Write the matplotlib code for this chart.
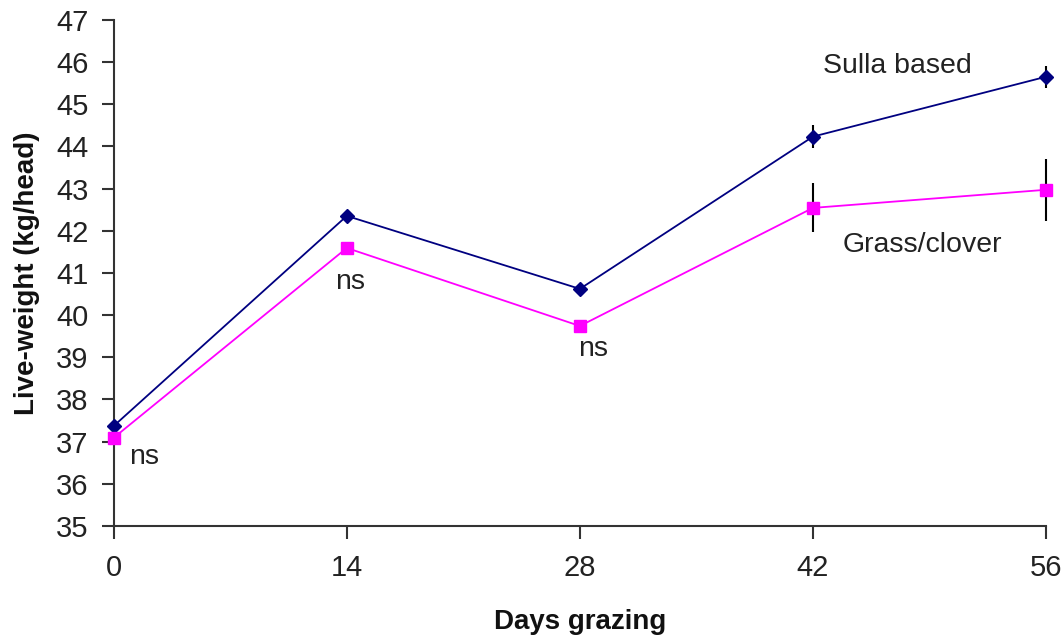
import matplotlib
matplotlib.use('Agg')
import matplotlib.pyplot as plt

days = [0, 14, 28, 42, 56]
sulla = [37.37, 42.35, 40.62, 44.23, 45.65]
sulla_err = [0, 0, 0, 0.28, 0.26]
grass = [37.09, 41.59, 39.74, 42.54, 42.97]
grass_err = [0, 0, 0, 0.58, 0.73]

plt.rcParams['font.family'] = ['Liberation Sans', 'DejaVu Sans']

fig = plt.figure(figsize=(10.63, 6.39), dpi=100)
ax = fig.add_axes([0.107, 0.177, 0.877, 0.792])

ax.errorbar(days, sulla, yerr=sulla_err, color='#000080', marker='D', markersize=7,
            linewidth=1.3, ecolor='black', elinewidth=1.5, capsize=0, clip_on=False, zorder=3)
ax.errorbar(days, grass, yerr=grass_err, color='#FF00FF', marker='s', markersize=8,
            linewidth=1.3, ecolor='black', elinewidth=1.5, capsize=0, clip_on=False, zorder=3)

ax.text(42.6, 45.9, 'Sulla based', fontsize=20.5, color='#222222', va='center', ha='left')
ax.text(43.8, 41.67, 'Grass/clover', fontsize=20.5, color='#222222', va='center', ha='left')
ns_pos = [(0.95, 36.64), (13.3, 40.79), (27.9, 39.2)]
for xp, yp in ns_pos:
    ax.text(xp, yp, 'ns', fontsize=20.5, color='#222222', va='center', ha='left')

ax.set_xlim(0, 56)
ax.set_ylim(35, 47)
ax.set_xticks(days)
ax.set_yticks(range(35, 48))
ax.tick_params(axis='both', direction='out', length=9, width=1.5, labelsize=21,
               colors='#333333', labelcolor='#222222')
ax.tick_params(axis='x', pad=11)
ax.tick_params(axis='y', pad=9)

for s in ['top', 'right']:
    ax.spines[s].set_visible(False)
for s in ['left', 'bottom']:
    ax.spines[s].set_linewidth(1.5)
    ax.spines[s].set_color('#333333')

ax.set_xlabel('Days grazing', fontsize=20, fontweight='bold', labelpad=20, color='#111111')
ax.set_ylabel('Live-weight (kg/head)', fontsize=20, fontweight='bold', labelpad=12, color='#111111')

fig.savefig('out.png', dpi=100)
